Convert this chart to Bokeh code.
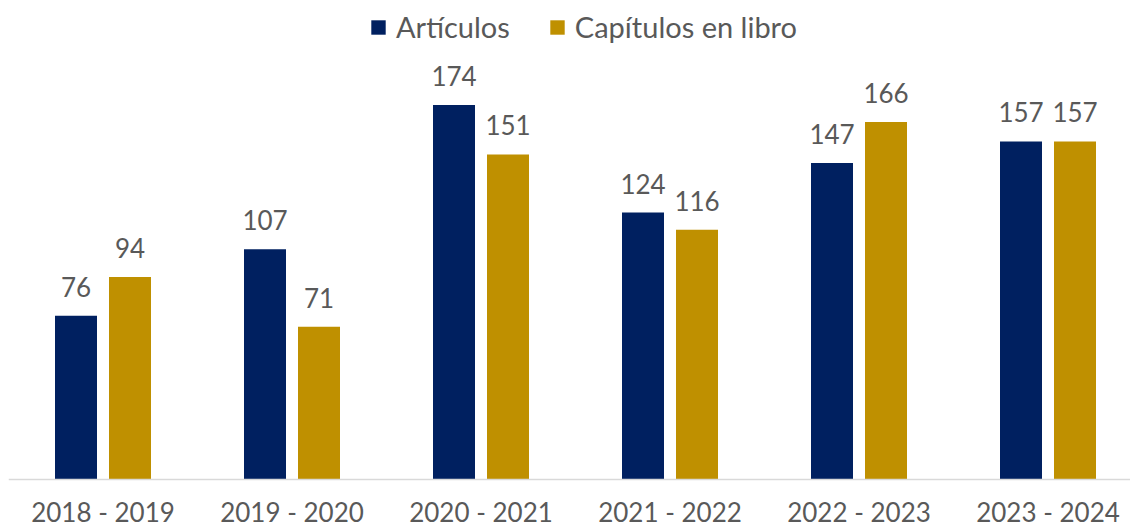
from bokeh.plotting import figure
from bokeh.models import ColumnDataSource, Range1d, Legend, LegendItem, Span
from bokeh.transform import dodge
from bokeh.core.properties import value
from bokeh.embed import file_html
from bokeh.resources import INLINE

periods = ["2018 - 2019", "2019 - 2020", "2020 - 2021", "2021 - 2022", "2022 - 2023", "2023 - 2024"]
articulos = [76, 107, 174, 124, 147, 157]
capitulos = [94, 71, 151, 116, 166, 157]

NAVY = "#002060"
GOLD = "#BF9000"
TXT = "#595959"
FONT = "Lato"

pos = [i + 0.5 for i in range(len(periods))]
src = ColumnDataSource(dict(
    x=pos, base=[0] * len(pos), per=periods, art=articulos, cap=capitulos,
    art_lbl=[str(v) for v in articulos], cap_lbl=[str(v) for v in capitulos],
))

W, H = 1130, 529
PX = 2.153          # pixels per unit
AXIS_Y = 479        # page y of baseline
p = figure(width=W, height=H, output_backend="svg", toolbar_location=None,
           x_axis_location=None, y_axis_location=None,
           x_range=Range1d(0, (W - 8) / 189.0),
           y_range=Range1d(-(H - AXIS_Y) / PX, AXIS_Y / PX),
           min_border_left=8, min_border_right=0, min_border_top=0, min_border_bottom=0)
p.outline_line_color = None
p.xgrid.visible = False
p.ygrid.visible = False

off = 27 / 189.0
bw = 42 / 189.0
r1 = p.vbar(x=dodge("x", -off), top="art", width=bw, source=src, color=NAVY, line_color=None)
r2 = p.vbar(x=dodge("x", off), top="cap", width=bw, source=src, color=GOLD, line_color=None)

for col, lbl, d in (("art", "art_lbl", -off), ("cap", "cap_lbl", off)):
    p.text(x=dodge("x", d), y=col, text=lbl, source=src, text_align="center",
           text_baseline="alphabetic", y_offset=-29, text_font=value(FONT),
           text_font_size="26px", text_color=TXT)

p.add_layout(Span(location=0, dimension="width", line_color="#D9D9D9", line_width=1.5))
p.text(x="x", y="base", text="per", source=src, text_align="center",
       text_baseline="alphabetic", y_offset=32, text_font=value(FONT),
       text_font_size="26px", text_color=TXT)

legend = Legend(items=[LegendItem(label="Artículos", renderers=[r1]),
                       LegendItem(label="Capítulos en libro", renderers=[r2])],
                orientation="horizontal", location=(361, 485))
legend.glyph_width = 18
legend.glyph_height = 18
legend.label_text_font = FONT
legend.label_text_font_size = "29px"
legend.label_text_color = TXT
legend.label_standoff = 9
legend.spacing = 38
legend.margin = 0
legend.padding = 0
legend.border_line_color = None
legend.background_fill_alpha = 0
p.add_layout(legend)

html = file_html(p, INLINE)
html = html.replace("<head>", "<head><style>html,body{margin:0;overflow:hidden}</style>", 1)
open("out.html", "w").write(html)
